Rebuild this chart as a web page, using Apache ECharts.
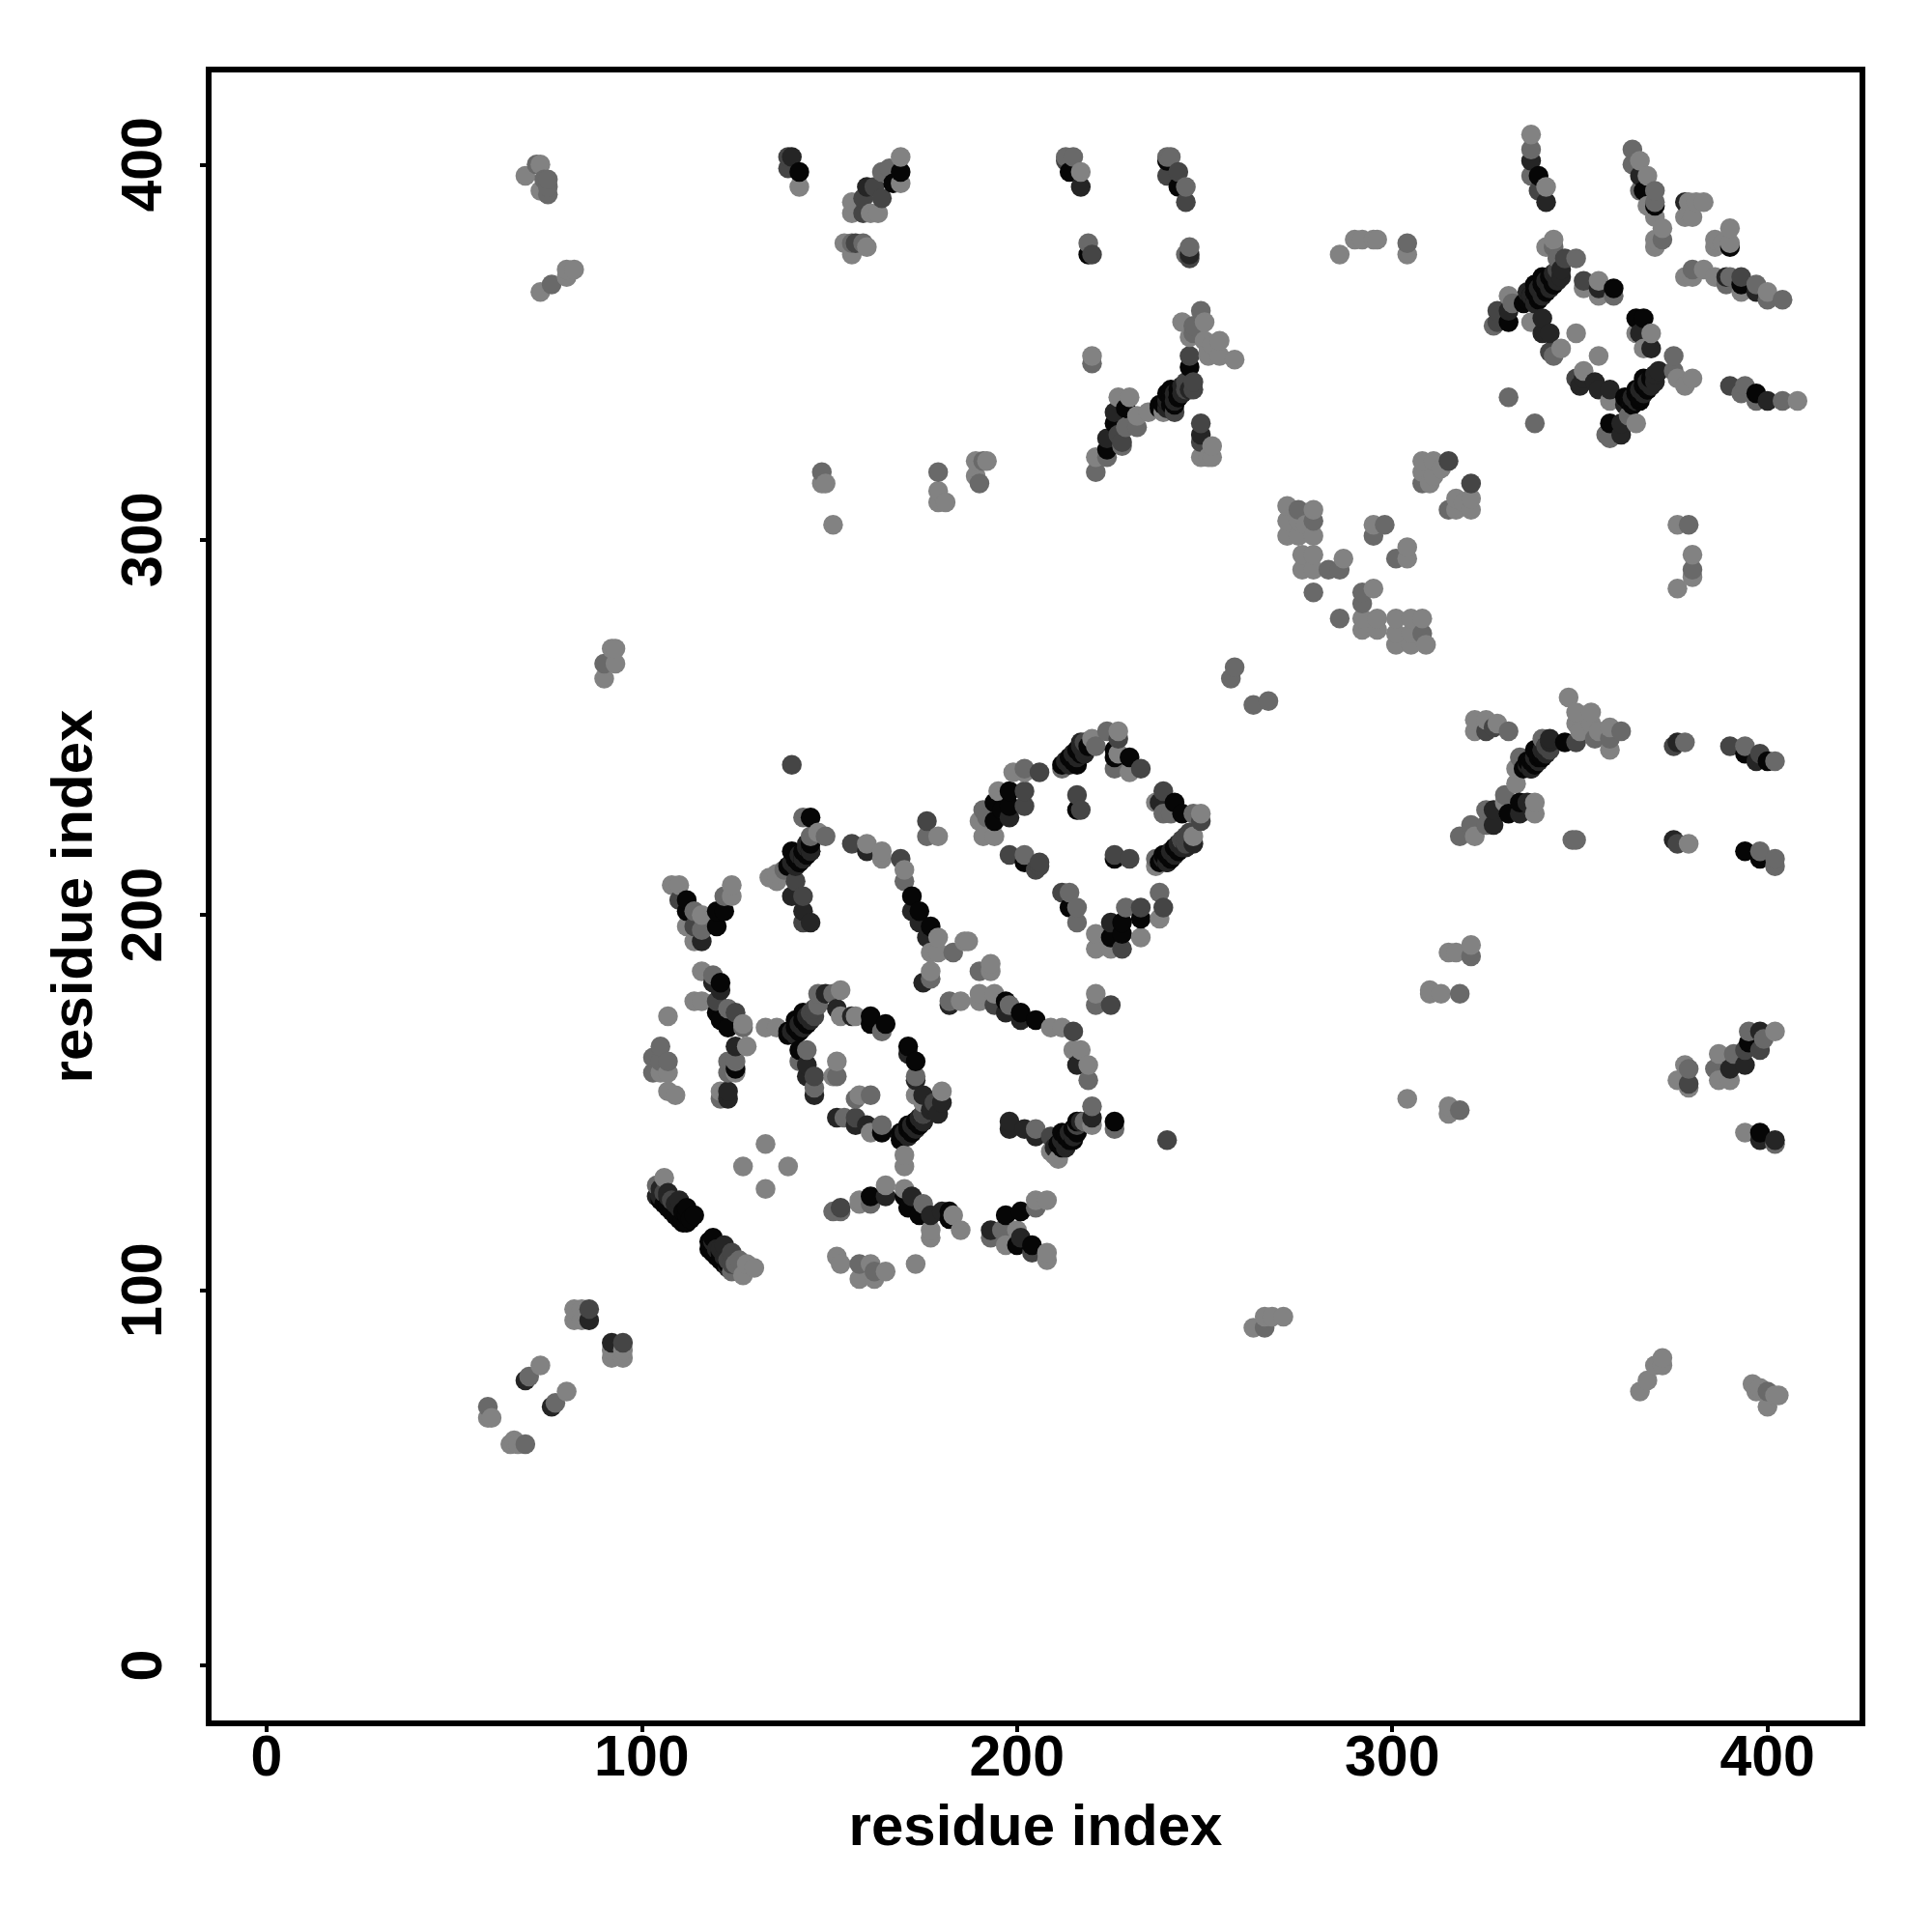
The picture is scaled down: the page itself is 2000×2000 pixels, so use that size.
<!DOCTYPE html>
<html><head><meta charset="utf-8">
<style>html,body{margin:0;background:#fff}#c{width:2000px;height:2000px}</style>
<script src="https://cdn.jsdelivr.net/npm/echarts@6/dist/echarts.min.js"></script>
</head><body><div id="c"></div>
<script>
// contacts as [residue i, residue j, shade class 0 (black) .. 4 (light grey)]
const lowDiagonal=[[82,95,4],[84,95,4],[82,92,4],[84,92,4],[86,92,1],[86,95,2],[92,86,1],[95,86,2],[92,82,4],[95,82,4],[92,84,4],[95,84,4],
[73,80,4],[69,76,1],[70,77,3],[80,73,4],[76,69,1],[77,70,3],[59,69,3],[59,66,4],[60,66,4],[65,59,4],[66,60,4],[67,59,4],[69,59,3]];
const topLeft=[[69,397,4],[72,400,3],[73,400,4],[74,396,3],[75,396,3],[73,393,4],[75,392,3],[75,394,3],
[73,366,4],[76,368,3],[80,370,4],[80,372,4],[82,372,4],
[90,267,3],[90,263,4],[93,267,4],[93,271,4],[92,271,4]];
const topMiddle=[[139,402,2],[140,402,1],[139,399,2],[142,398,0],[142,394,4],
[169,402,4],[169,398,0],[169,395,4],[167,395,0],[166,399,3],[164,398,3],[160,394,1],[164,391,2],[159,391,2],[162,394,2],[156,390,4],[156,387,4],[159,387,2],[163,387,4],[161,387,4],
[154,379,4],[156,379,3],[159,379,3],[160,378,4],[156,376,4],[157,379,2],
[148,318,3],[148,315,4],[149,315,4],[151,304,4],[179,318,3],[179,313,4],[179,310,4],[181,310,4],
[189,321,4],[192,321,4],[189,317,4],[190,315,3],[191,321,3]];
const topCentre=[[213,402,3],[215,402,3],[213,401,2],[214,398,0],[217,398,4],[217,394,1],
[240,401,0],[240,402,3],[241,402,3],[243,398,2],[240,397,2],[243,394,0],[245,394,3],[245,390,2],
[219,379,3],[219,376,0],[220,376,2],[246,378,3],[246,375,2],[245,376,3],[246,376,1],
[286,376,4],[290,380,4],[292,380,4],[296,380,4],[295,380,4],[304,379,3],[304,376,4]];
const upperArm=[[249,361,3],[244,358,4],[250,358,4],[247,357,3],[246,354,4],[247,355,3],[254,353,4],[250,353,4],[251,350,4],[254,349,4],[258,348,4],[251,349,4],[252,352,4],
[246,349,2],[246,346,0],[247,342,2],[247,340,2],[246,340,1],[243,338,0],[241,340,0],[240,339,0],[242,336,0],[238,336,0],[240,337,0],[242,334,2],[239,334,4],[235,334,4],[232,333,4],[232,330,3],[230,338,4],[227,338,4],[229,335,0],[226,334,1],[226,331,0],[228,326,2],[228,325,3],[224,327,1],[224,322,3],[221,322,4],[221,318,3],[224,324,0],[229,330,3],[227,328,2],
[220,349,4],[220,347,3],[249,331,2],[249,328,1],[249,326,2],[252,325,4],[252,322,4],[249,322,4],[251,322,4]];
const patchA=[[272,309,4],[275,308,3],[279,308,4],[272,305,4],[275,305,4],[279,305,3],[272,301,4],[275,301,4],[279,301,4],[277,304,4],
[276,296,4],[279,296,4],[276,292,4],[279,292,4],[283,292,3],[286,292,3],[287,295,4],[279,286,3],[286,279,3],
[292,286,3],[295,287,4],[292,283,3],[292,279,4],[292,276,4],[296,279,4],[296,276,4],
[301,279,4],[305,279,4],[308,279,4],[301,275,4],[305,275,4],[308,275,3],[301,272,4],[305,272,4],[309,272,4],
[295,304,4],[298,304,3],[295,301,3],[304,298,4],[301,295,3],[304,295,4],
[308,321,4],[311,321,4],[315,321,2],[308,318,4],[308,315,3],[311,317,4],[310,315,4],[313,319,4],
[321,315,2],[315,308,3],[317,311,4],[317,308,4],[321,308,4],[321,311,4],[319,310,4]];
const helixPairA=[[337,408,4],[337,404,3],[337,401,1],[337,397,3],[339,397,0],[339,393,2],[341,394,4],[341,390,1],
[364,404,3],[366,401,4],[364,400,3],[366,397,1],[368,397,4],[366,393,3],[367,393,0],[370,393,3],[370,389,0],[370,390,3],[368,389,4],[370,386,4],[372,383,4],[372,380,3],[370,380,4],[370,378,4],
[378,390,1],[379,390,4],[381,390,4],[383,390,4],[378,386,4],[380,386,4],[379,387,4],
[390,383,4],[386,380,4],[386,378,4],[390,378,0],[390,379,4],[388,379,4],
[378,370,4],[380,372,3],[380,370,4],[383,372,4],[386,370,4],[389,370,1],[390,370,3],[389,368,3],[393,370,2],[393,368,0],[393,366,4],[397,368,3],[397,366,1],[400,366,4],[400,364,3],[404,364,3]];
const centreRing=[[343,380,4],[341,378,4],[343,378,3],[349,375,3],[346,375,2],[344,375,3],[345,372,1],[343,370,0],[340,370,0],[343,368,0],[341,367,0],[338,368,0],[339,365,0],[337,365,0],[338,363,0],[335,363,0],[336,366,1],
[331,365,4],[332,363,3],[328,361,2],[331,361,1],[331,358,0],[327,357,3],[328,358,2],[340,359,1],[337,358,4],[342,355,1],[340,355,1],[345,351,4],[343,349,3],[342,350,2],
[351,369,2],[351,367,4],[355,369,4],[355,367,1],[355,365,4],[359,367,0],[359,365,3],[365,359,0],[367,359,0],[365,355,4],[369,355,4],[366,355,1],[367,351,4],[369,351,1],[349,355,4],[355,349,4],[331,338,3],[338,331,3],
[349,343,2],[351,345,4],[351,343,1],[350,341,1],[354,342,1],[355,340,1],[358,340,1],[358,337,4],[362,338,0],[365,340,0],[367,343,0],[366,337,0],[364,336,1],[369,343,0],[368,340,0],[371,345,1],[375,349,3],[375,345,3],[376,343,4],[380,343,4],[378,341,4],
[363,333,3],[365,331,4],[358,331,0],[357,328,3],[361,328,1],[358,327,3],[361,331,1],
[390,341,2],[394,341,3],[393,339,3],[397,339,0],[397,337,3],[400,337,1],[404,337,3],[408,337,4],
[376,304,4],[379,304,3],[380,296,4],[380,292,3],[380,290,4],[376,287,4]];
const rightArm=[[347,258,4],[349,254,4],[353,254,4],[349,251,4],[353,251,4],[350,249,4],[354,247,3],[358,244,4],[358,247,3],[358,250,4],[355,249,4],[361,249,3],
[322,252,4],[325,252,4],[328,251,4],[322,249,4],[325,249,2],[327,250,2],[331,249,3],
[349,246,2],[346,246,0],[342,247,1],[340,247,3],[340,244,1],[338,244,0],[336,241,0],[337,239,0],[339,242,0],[334,242,3],[341,245,1],[333,239,4],[333,235,4],[330,232,3],[330,230,4],[334,230,0],[336,230,1],[338,230,4],[338,227,4],[334,227,1],[331,227,0],[327,228,1],[325,228,3],[327,224,1],[325,224,3],[321,224,3],[322,221,4],[318,221,3],
[349,220,3],[348,220,3],[375,220,1],[376,219,2],[379,219,4],[375,245,2],[376,246,1],[378,246,3],
[390,245,2],[394,245,3],[394,243,0],[398,243,2],[397,241,1],[402,241,3],[400,241,0],
[394,217,0],[398,217,3],[398,215,0],[402,215,3],[402,213,3],
[321,192,4],[321,189,3],[317,190,4],[315,190,4],[310,180,4],[310,179,4],[313,179,4],[318,179,3],[304,151,4],[315,149,4],[315,147,4],[318,148,3]];
const rightLow=[[378,160,4],[379,159,3],[376,156,4],[379,155,2],[379,154,4],[387,163,4],[386,159,3],[387,156,4],[390,156,4],[391,163,3],[390,159,1],[394,160,1],[394,164,2],[398,164,2],[399,167,3],[395,169,3],[398,169,1],[395,166,0],[402,169,4],
[394,142,4],[398,142,0],[398,140,1],[402,140,1],[402,139,3],
[366,73,4],[368,76,4],[370,80,4],[372,80,4],[372,82,4],[396,75,4],[397,73,4],[400,73,3],[400,69,4],[402,72,4],[403,72,4],[398,74,4],
[263,90,4],[266,93,4],[271,93,4],[266,90,3],[268,93,4],[257,263,3],[258,266,3],[263,256,3],[267,257,3]];
const diamond=[[199,238,4],[202,239,3],[202,238,4],[206,238,2],
[195,233,4],[198,233,0],[202,233,2],[202,229,2],[198,229,0],[194,230,0],[191,228,3],[190,225,4],[194,225,0],[198,226,1],[191,221,4],[194,221,4],[196,228,0],[192,226,3],
[198,216,2],[202,216,3],[202,214,0],[206,214,2],[206,213,2],[205,212,2],
[212,206,2],[214,206,3],[214,202,0],[216,202,3],[216,198,3],
[221,195,4],[221,191,4],[225,198,1],[225,194,0],[225,191,4],[228,198,0],[228,195,0],[228,191,2],[229,202,3],[233,202,2],[233,199,0],[233,194,4],[238,206,3],[239,202,2],[238,199,4],
[216,232,2],[216,228,0],[217,228,2],
[226,216,2],[226,215,0],[230,215,2],
[213,241,0],[212,239,3],[215,243,0],[216,240,0],[217,246,1],[219,245,0],[220,247,4],[218,243,1],[221,245,3],[224,249,3],[227,249,4],[227,247,2],[226,242,0],[230,242,0],[230,238,4],[233,239,2],[226,239,3],[227,243,4],[226,244,0],
[239,233,2],[242,230,0],[238,230,1],[237,230,4],[239,227,3],[244,227,0],[241,227,3],[247,227,3],[249,227,4],[249,225,2],
[247,221,4],[247,219,1],[244,220,3],[242,217,1],[239,216,0],[240,214,0],[237,215,3],[237,213,4],[245,218,1],[241,215,0]];
const lowerBlockA=[[140,240,2],[145,226,0],[143,226,3],[149,221,3],[145,221,3],[147,222,4],[145,217,0],[140,217,0],[143,215,0],[140,213,0],[136,211,4],[136,209,4],[134,210,4],[138,212,3],[141,209,2],[140,205,1],[143,205,2],[143,201,1],[143,198,2],[145,198,1],[142,214,0],[144,219,1],
[108,208,4],[110,208,4],[112,204,0],[110,204,2],[112,201,0],[114,201,3],[116,200,4],[112,197,4],[116,196,3],[114,193,4],[116,193,1],[114,197,2],[120,197,0],[120,201,0],[122,201,0],[122,205,3],[124,208,4],[124,205,4],
[116,185,4],[119,184,3],[121,182,0],[121,180,1],[119,182,1],[114,177,4],[116,177,4],[120,177,2],[123,175,3],[120,174,0],[121,172,0],[125,174,2],[123,170,0],[127,171,4],[127,170,3],[107,173,4],
[125,165,1],[128,165,4],[123,161,3],[125,161,3],[125,159,0],[123,158,3],[125,158,4],[123,153,1],[121,153,4],[121,151,3],[123,151,1],
[105,165,3],[103,162,3],[107,161,3],[105,161,3],[103,158,3],[107,158,4],[105,158,4],[107,153,4],[109,152,4]];
const lowerBlockB=[[133,170,4],[136,170,4],[139,169,0],[141,172,0],[143,174,0],[142,169,0],[145,173,1],[144,171,0],[147,179,3],[149,179,1],[153,180,4],[151,179,3],[147,176,3],[152,175,1],[153,173,4],[157,173,4],[156,173,1],[161,173,0],[161,171,0],[165,171,0],[164,169,3],
[142,164,0],[144,164,3],[142,161,3],[144,160,1],[144,157,1],[146,157,2],[146,154,3],[146,152,1],[152,161,4],[152,157,3],[151,157,4],[157,151,3],[158,152,4],[161,152,3],
[152,146,1],[154,146,3],[157,146,2],[157,144,1],[160,144,1],[161,142,4],[164,144,3],[164,142,0],
[171,165,0],[173,161,0],[171,163,1],[173,157,3],[173,156,1],[173,152,4],[175,152,1],[180,153,4],[180,150,1],[179,147,1],[175,150,4],[175,147,3],[173,145,1],[169,142,0],[172,142,0],[175,145,1],[169,140,0],[170,136,4],[170,133,4],[171,144,0],[177,148,1],[178,150,2],
[156,219,2],[160,219,4],[160,217,1],[164,217,4],[164,215,4],[169,215,2],[170,212,4],[170,209,3],[172,205,0],[172,201,1],[174,201,0],[174,198,1],[177,197,0],[176,194,1],[179,194,4],[177,190,4],[179,190,4],[177,185,4],[175,182,1],[177,183,3],
[176,225,2],[176,221,3],[179,221,4],[183,190,3],[186,193,4],[187,193,4],[190,185,3],[193,187,4],[193,185,4]];
const midBand=[[182,176,1],[182,177,3],[185,177,4],[190,179,4],[190,177,4],[194,179,4],[194,176,2],[197,177,0],[198,176,3],[197,174,1],[201,174,0],[201,172,1],[205,172,0],[209,170,4],[212,170,4],[215,169,2],
[215,164,4],[217,164,4],[216,160,1],[219,160,4],[219,156,3],[221,179,4],[221,176,3],[225,176,2],
[198,145,1],[198,143,1],[202,143,1],[205,143,3],[205,141,1],[209,141,2],[212,142,0],[216,145,0],[214,142,0],[212,140,1],[210,136,4],[209,137,4],[211,135,4],[213,138,1],[215,140,0],[218,145,3],[220,149,3],[220,146,1],[220,144,4],[226,145,0],[226,143,3],[240,140,2],
[133,139,4],[127,133,4],[139,133,4],[133,127,4]];
const strandA=[[104,128,3],[106,130,4],[105,125,1],[107,126,1],[110,124,1],[107,123,0],[112,122,0],[109,120,0],[114,120,0],[111,119,0],
[119,114,0],[119,112,0],[122,112,1],[121,110,0],[124,110,2],[123,107,0],[126,108,3],[127,104,4],[130,106,4],[128,107,4]];
const strandB=[[153,122,2],[151,121,3],[153,121,3],[158,124,4],[158,123,4],[161,125,0],[161,123,3],[165,128,4],[165,125,1],[170,127,4],[170,125,0],[172,125,1],[175,123,3],[171,122,0],[174,120,0],[177,120,1],[180,121,1],[182,121,0],[183,120,4],[182,119,0],[185,116,4],[177,116,4],[177,114,4],
[193,116,1],[193,114,3],[197,120,0],[201,121,0],[205,124,4],[208,124,4],[205,122,3],[196,116,3],[197,112,4],[200,116,4],[201,114,1],[200,112,0],[204,112,0],[204,110,2],[208,110,4],[208,108,4],
[152,109,4],[153,107,4],[158,107,3],[158,103,4],[161,107,4],[162,105,3],[162,103,4],[165,105,4],[173,107,4]];
const denseBandsUpper=[[336,364,0],[337,365,1],[338,366,0],[339,367,1],[340,368,0],[341,369,1],[342,370,0],[343,371,1],[344,372,2],
[338,363,1],[339,364,0],[340,365,1],[341,366,0],[342,367,1],[343,368,0],[344,369,1],[345,370,1],
[238,335,0],[239,336,0],[240,337,1],[241,338,0],[242,339,1],[243,340,0],[244,341,1],[245,342,2],[240,335,1],[241,336,0],[242,337,1],[243,338,0],[244,339,1],[245,340,2],
[362,336,1],[363,337,0],[364,338,1],[365,339,0],[366,340,1],[367,341,0],[368,342,1],[369,343,0],[370,344,1],[364,336,0],[365,337,1],[366,338,0],[367,339,1],[368,340,0],[369,341,1],[370,342,1],
[335,239,0],[336,240,1],[337,241,0],[338,242,1],[339,243,0],[340,244,1],[341,245,2],[342,246,1],[337,239,1],[338,240,0],[339,241,1],[340,242,0],[341,243,1],[342,244,2]];
const denseBandsLower=[[139,213,0],[140,214,1],[141,215,0],[142,216,1],[143,217,0],[144,218,1],[145,219,0],[141,213,1],[142,214,0],[143,215,1],[144,216,0],[145,217,1],
[139,168,0],[140,169,1],[141,170,0],[142,171,1],[143,172,0],[144,173,1],[145,174,2],[146,175,2],[141,168,1],[142,169,0],[143,170,1],[144,171,0],[145,172,1],[146,173,2],
[169,141,0],[170,142,1],[171,143,0],[172,144,1],[173,145,0],[174,146,1],[175,147,2],[171,141,1],[172,142,0],[173,143,1],[174,144,0],[175,145,1],
[212,240,0],[213,241,1],[214,242,0],[215,243,1],[216,244,0],[217,245,1],[218,246,2],[214,240,1],[215,241,0],[216,242,1],[217,243,0],[218,244,1],
[238,214,0],[239,215,1],[240,216,0],[241,217,1],[242,218,0],[243,219,1],[244,220,2],[245,221,2],[246,222,2],[240,214,1],[241,215,0],[242,216,1],[243,217,0],[244,218,1],[245,219,2],
[210,138,1],[211,139,0],[212,140,1],[213,141,0],[214,142,1],[215,143,0],[216,144,2],[217,145,1],[212,138,0],[213,139,1],[214,140,0],[215,141,1],[216,142,0],
[105,127,1],[106,126,2],[107,125,1],[108,124,2],[109,123,1],[110,122,1],[111,121,0],[112,120,0],[113,119,0],[104,125,1],[105,124,0],[106,123,0],[107,122,0],[108,121,0],[109,120,0],[110,119,0],[111,118,0],[112,118,0],
[118,113,0],[119,113,1],[120,111,1],[121,111,1],[122,109,1],[123,108,2],[124,107,2],[125,107,3],[118,111,0],[119,110,0],[120,109,0],[121,108,0],[122,107,0],[123,106,1],[124,105,3]];
const shadeColors=['#060606','#252525','#454545','#696969','#828282'];
const xTickLabels=[0,100,200,300,400];
const yTickLabels=[0,100,200,300,400];
const axisTitle='residue index';
const contacts=[].concat(lowDiagonal,topLeft,topMiddle,topCentre,upperArm,patchA,helixPairA,centreRing,rightArm,rightLow,diamond,lowerBlockA,lowerBlockB,midBand,strandA,strandB,denseBandsUpper,denseBandsLower)
  .sort((a,b)=>a[0]-b[0]||a[1]-b[1]);
const font='"Liberation Sans",Arial,sans-serif';
const axis=(ticks,extra)=>Object.assign({
  type:'value',min:-15.4,max:425.3,splitLine:{show:false},axisLine:{show:false,onZero:false},
  axisTick:{show:true,customValues:ticks,length:9,lineStyle:{color:'#000',width:4}},
  axisLabel:{customValues:ticks,color:'#000',fontFamily:font,fontWeight:'bold',fontSize:59},
  name:axisTitle,nameLocation:'middle',
  nameTextStyle:{color:'#000',fontFamily:font,fontWeight:'bold',fontSize:60}
},extra);
const chart=echarts.init(document.getElementById('c'),null,{renderer:'canvas'});
const xa=axis(xTickLabels,{nameGap:79});
xa.axisLabel.margin=8;
const ya=axis(yTickLabels,{nameGap:108,nameRotate:90});
ya.axisLabel.rotate=90;ya.axisLabel.margin=65;ya.axisLabel.align='center';ya.axisLabel.verticalAlign='middle';
chart.setOption({
  animation:false,backgroundColor:'#fff',
  grid:{left:216,top:72,width:1712,height:1712,show:true,borderColor:'#000',borderWidth:6,backgroundColor:'transparent'},
  xAxis:xa,yAxis:ya,
  series:[{type:'scatter',data:contacts,symbol:'circle',symbolSize:20.5,large:false,
    encode:{x:0,y:1},
    itemStyle:{opacity:1,color:p=>shadeColors[p.value[2]]}}]
});
</script></body></html>
